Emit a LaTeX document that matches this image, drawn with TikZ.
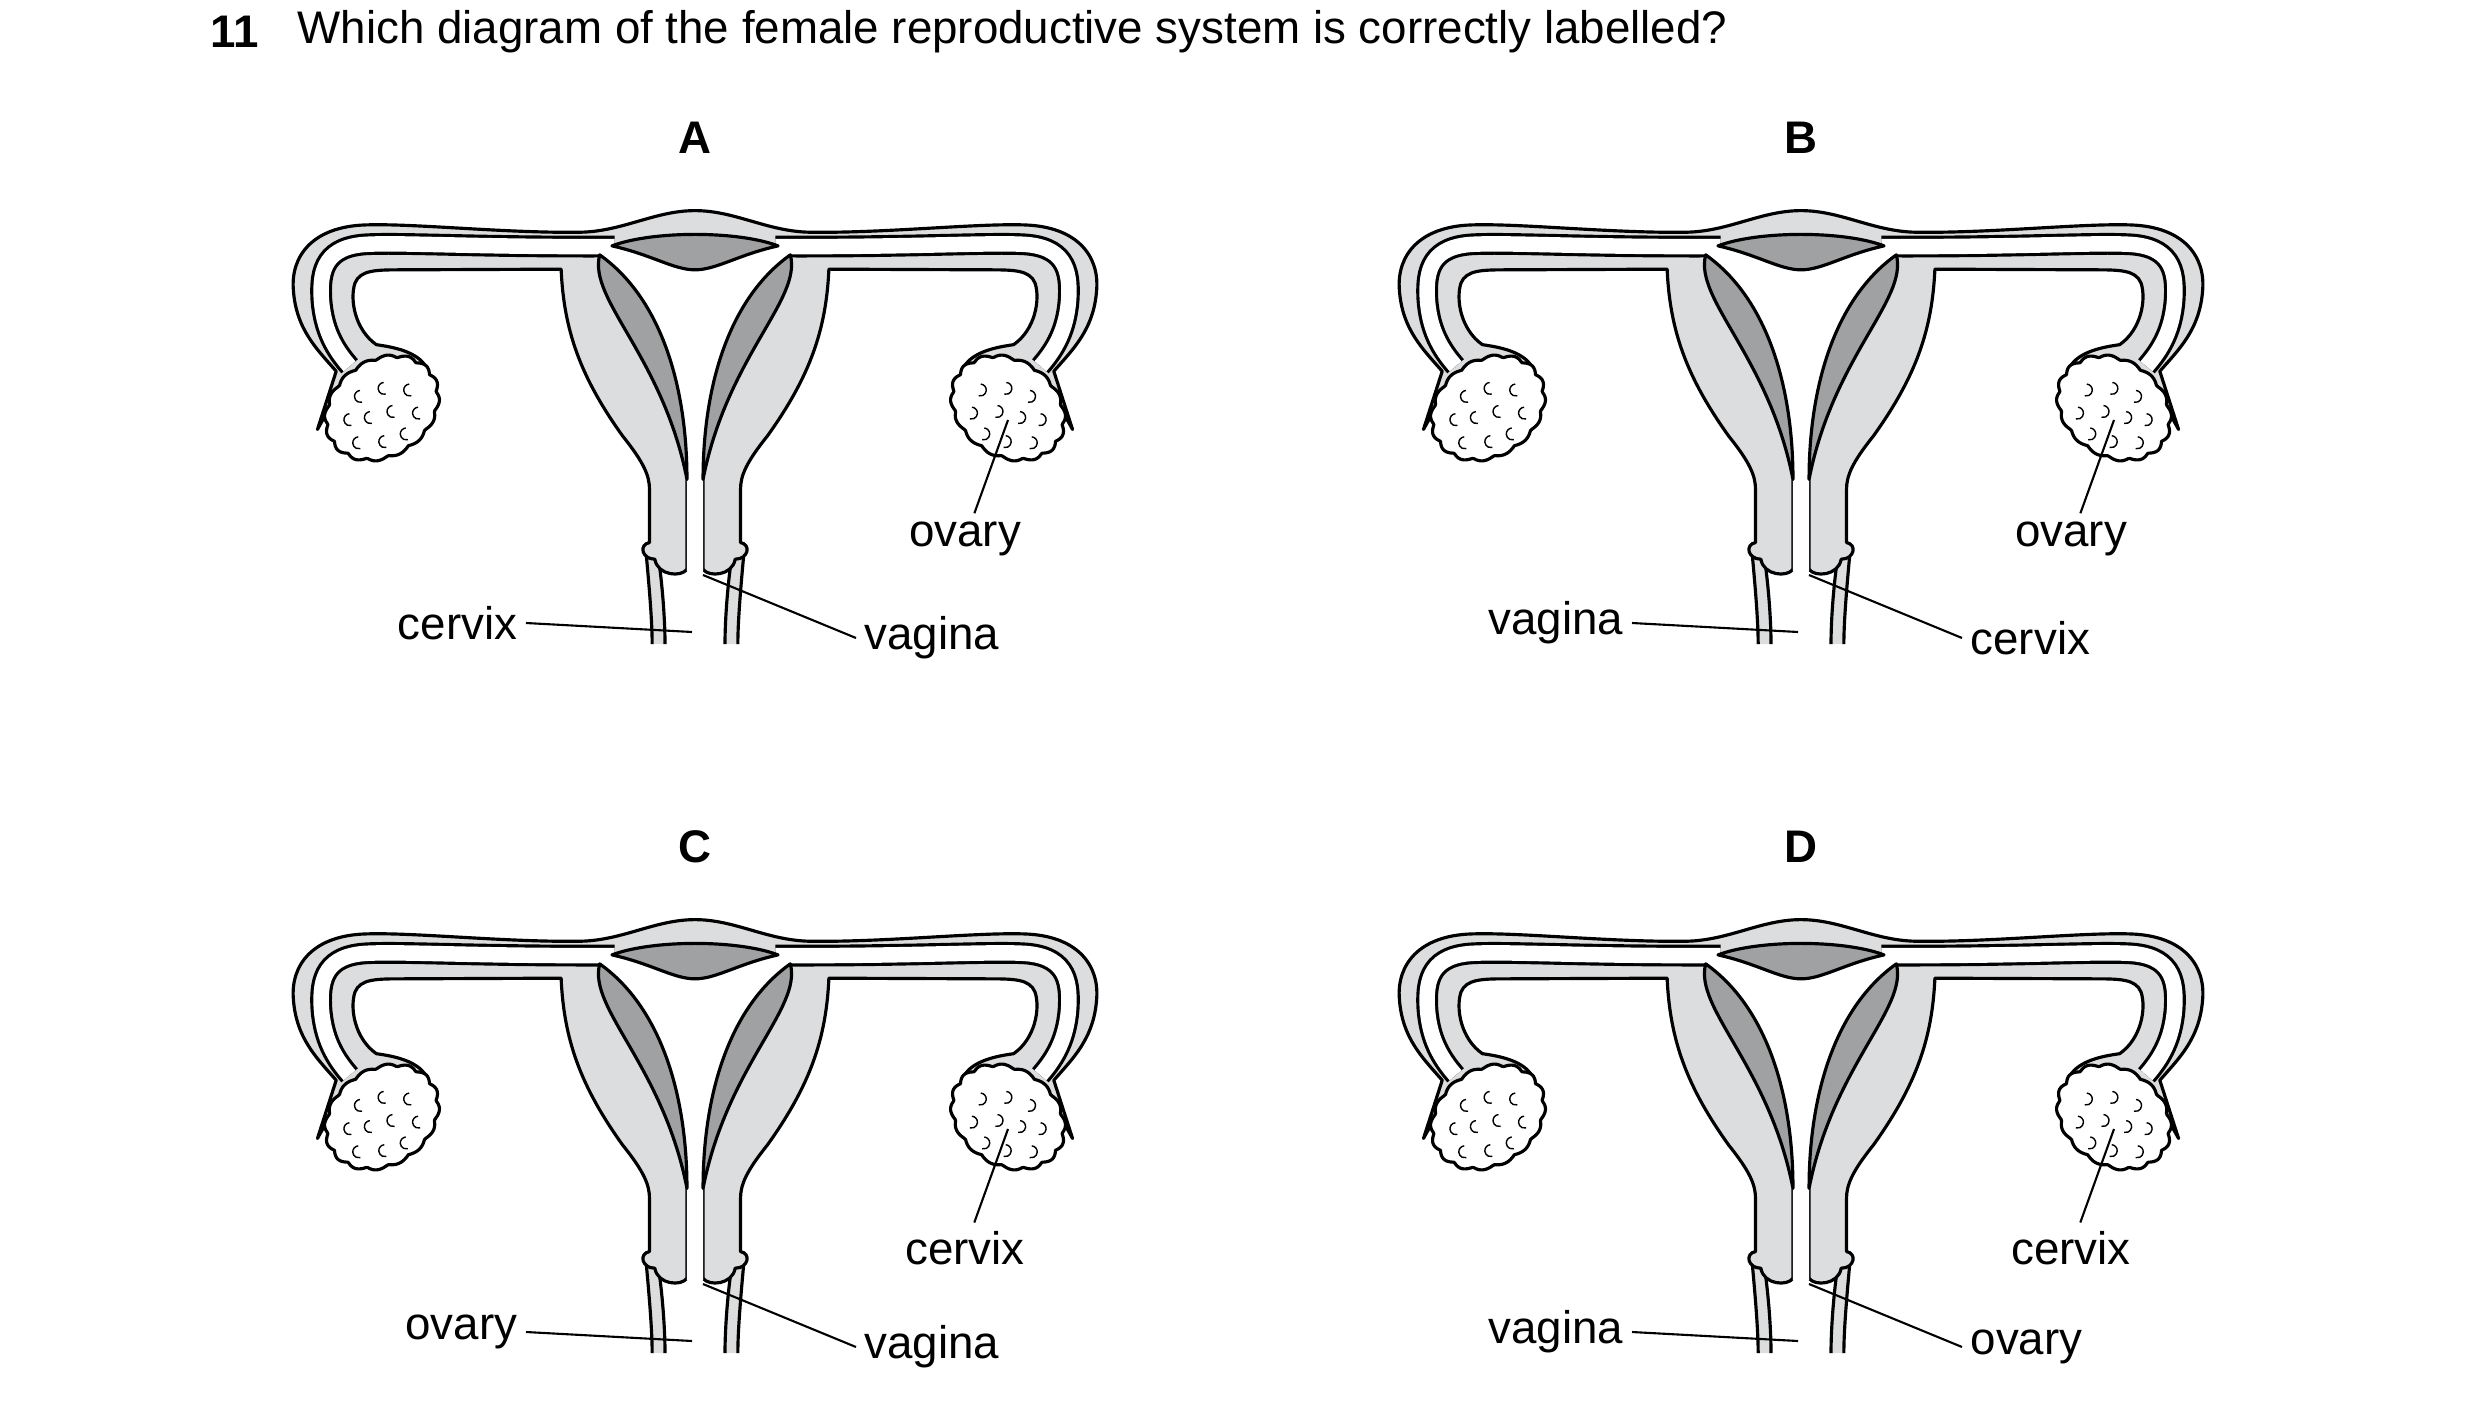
\documentclass[tikz,border=0pt]{standalone}
\usepackage{fontspec}
\setmainfont{Liberation Sans}
\usetikzlibrary{positioning}

\definecolor{tissuegray}{HTML}{DCDDDE}
\definecolor{liningdark}{HTML}{A0A1A3}

\tikzset{
  wall/.style={line width=0.9pt, line join=round},
  tissue/.style={fill=tissuegray},
  lining/.style={wall, fill=liningdark},
  lbl/.style={font=\fontsize{13}{15}\selectfont, inner sep=0.08cm},
  pointer/.style={line width=0.6pt},
}

% one side of the organ, drawn in the picture's local frame
\def\uterusside{(0,62) .. controls (-75,62) and (-135,125) .. (-215,127)
  .. controls (-355,130) and (-525,100) .. (-615,105)
  .. controls (-715,110) and (-755,200) .. (-750,300)
  .. controls (-745,420) and (-705,480) .. (-670,545)
  -- (-705,720) -- (-650,560) -- (-505,525)
  .. controls (-525,480) and (-575,470) .. (-595,465)
  .. controls (-635,420) and (-645,330) .. (-635,280)
  .. controls (-625,240) and (-595,240) .. (-545,240)
  -- (-250,238)
  .. controls (-245,420) and (-215,560) .. (-135,740)
  .. controls (-95,820) and (-85,860) .. (-85,900)
  -- (-85,1060)
  .. controls (-105,1065) and (-100,1110) .. (-75,1110)
  .. controls (-70,1160) and (-25,1165) .. (-15,1140)
  -- (-15,870)}
\def\lumenpath{(-150,170) .. controls (-400,172) and (-540,158) .. (-610,163)
  .. controls (-690,168) and (-700,240) .. (-698,320)
  .. controls (-695,420) and (-672,480) .. (-645,530)}

\newcommand\uterushalf{%
  \begin{scope}[x=0.005357cm,y=-0.003333cm]
    % vaginal wall
    \fill[tissue] (-92,1080) .. controls (-85,1200) and (-80,1300) .. (-80,1365)
      -- (-56,1365) .. controls (-56,1300) and (-60,1200) .. (-68,1110) -- cycle;
    \draw[wall] (-92,1080) .. controls (-85,1200) and (-80,1300) .. (-80,1365);
    \draw[wall] (-56,1365) .. controls (-56,1300) and (-60,1200) .. (-68,1110);
    % body and tube
    \fill[tissue] \uterusside -- (0,870) -- cycle;
    \draw[wall] \uterusside;
    \draw[line width=6.2pt, line cap=butt] \lumenpath;
    \draw[line width=4.4pt, white, line cap=butt] \lumenpath;
  \end{scope}
  % ovary
  \begin{scope}[shift={(-3.13,-2.18)}, rotate=35]
    \draw[wall, fill=white] plot[domain=0:358, samples=180]
      ({0.58*(1+0.06*abs(sin(8*\x)))*cos(\x)}, {0.46*(1+0.06*abs(sin(8*\x)))*sin(\x)}) -- cycle;
    \foreach \a/\b in {-0.3/0.14, -0.08/0.27, 0.16/0.2, 0.36/0.04, -0.36/-0.1,
                       -0.12/0.04, 0.1/-0.04, 0.3/-0.2, -0.14/-0.24, 0.08/-0.3}
      \draw[line width=0.4pt] (\a,\b) arc[start angle=60, end angle=250, radius=0.06];
  \end{scope}
}

% #1 name, #2 origin, #3 letter, #4 lower left, #5 lower right, #6 upper right
\newcommand\drawuterus[6]{%
  \begin{scope}[shift={#2}]
    \uterushalf
    \begin{scope}[xscale=-1]\uterushalf\end{scope}
    \begin{scope}[x=0.005357cm,y=-0.003333cm]
      \fill[white] (-175,175) -- (175,175) -- (175,200)
        .. controls (60,350) and (15,600) .. (15,870) -- (15,1145) -- (-15,1145)
        -- (-15,870) .. controls (-15,600) and (-60,350) .. (-175,200) -- cycle;
      \draw[lining] (-178,195) .. controls (-200,330) and (-60,500) .. (-15,870)
        .. controls (-15,600) and (-60,330) .. (-178,195) -- cycle;
      \draw[lining] (178,195) .. controls (200,330) and (60,500) .. (15,870)
        .. controls (15,600) and (60,330) .. (178,195) -- cycle;
      \draw[lining] (-155,168) .. controls (-80,122) and (80,122) .. (155,168)
        .. controls (80,195) and (40,240) .. (0,240)
        .. controls (-40,240) and (-80,195) .. (-155,168) -- cycle;
    \end{scope}
    \node[lbl, font=\fontsize{13}{15}\selectfont\bfseries] (#1) at (0,0.52) {#3};
    \coordinate (#1c) at (-0.03,-4.42);
    \coordinate (#1v) at (0.08,-3.85);
    \coordinate (#1o) at (3.13,-2.30);
    \node[lbl, anchor=east] (#1l) at (-1.69,-4.33) {#4};
    \node[lbl, anchor=west] (#1r) at (1.61,-4.48) {#5};
    \node[lbl] (#1t) at (2.70,-3.49) {#6};
    \draw[pointer] (#1l.east) -- (#1c);
    \draw[pointer] (#1r.west) -- (#1v);
    \draw[pointer] (#1t.70) -- (#1o);
  \end{scope}
}

\begin{document}
\begin{tikzpicture}
\useasboundingbox (0,0) rectangle (24.8,-14.09);

\node[lbl, anchor=west, font=\fontsize{13}{15}\selectfont\bfseries] (num) at (2.02,-0.32) {11};
\node[lbl, anchor=west] (question) at (2.89,-0.32) {Which diagram of the female reproductive system is correctly labelled?};

\drawuterus{A}{(6.95,-1.90)}{A}{cervix}{vagina}{ovary}
\drawuterus{B}{(18.01,-1.90)}{B}{vagina}{cervix}{ovary}
\drawuterus{C}{(6.95,-8.99)}{C}{ovary}{vagina}{cervix}
\drawuterus{D}{(18.01,-8.99)}{D}{vagina}{ovary}{cervix}

\end{tikzpicture}
\end{document}
